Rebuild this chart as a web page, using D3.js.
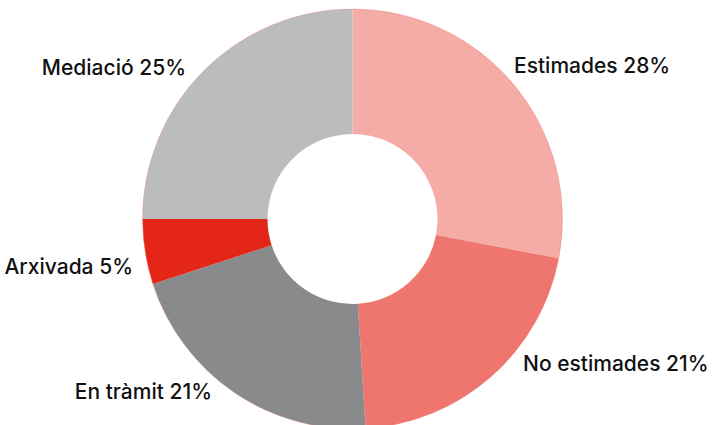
<!DOCTYPE html>
<html>
<head>
<meta charset="utf-8">
<script src="https://cdn.jsdelivr.net/npm/d3@7"></script>
<style>
  html, body { margin: 0; padding: 0; background: #fff; }
  svg { display: block; }
  .lbl { font-family: Inter, "Liberation Sans", sans-serif; font-weight: 500; font-size: 21px; fill: #111; }
</style>
</head>
<body>
<svg id="chart" width="712" height="425"></svg>
<script>
// Expedient status breakdown (percent)
const categories = ["Estimades", "No estimades", "En tràmit", "Arxivada", "Mediació"];
const values = [28, 21, 21, 5, 25];
const colors = ["#F5ABA6", "#EE766E", "#898A8C", "#E42618", "#BBBCBE"];

// label placement: [x, baseline y, anchor]
const labelLayout = [
  [514, 73, "start"],
  [523, 371, "start"],
  [212, 399, "end"],
  [133, 274, "end"],
  [186, 75, "end"]
];

const width = 712, height = 425;
const cx = 352.5, cy = 219, outerR = 210, innerR = 85;

const svg = d3.select("#chart");
const g = svg.append("g").attr("transform", `translate(${cx},${cy})`);

const data = categories.map((c, i) => ({ name: c, value: values[i], color: colors[i] }));

const pie = d3.pie().value(d => d.value).sort(null);
const arc = d3.arc().innerRadius(innerR).outerRadius(outerR);

g.selectAll("path.slice")
  .data(pie(data))
  .join("path")
  .attr("class", "slice")
  .attr("d", arc)
  .attr("fill", d => d.data.color);

// faint reddish rim along the outer edge
g.append("circle")
  .attr("r", outerR)
  .attr("fill", "none")
  .attr("stroke", "#EE8A84")
  .attr("stroke-width", 0.6)
  .attr("stroke-opacity", 0.7);

svg.selectAll("text.lbl")
  .data(data)
  .join("text")
  .attr("class", "lbl")
  .attr("x", (d, i) => labelLayout[i][0])
  .attr("y", (d, i) => labelLayout[i][1])
  .attr("text-anchor", (d, i) => labelLayout[i][2])
  .text(d => `${d.name} ${d.value}%`);
</script>
</body>
</html>
